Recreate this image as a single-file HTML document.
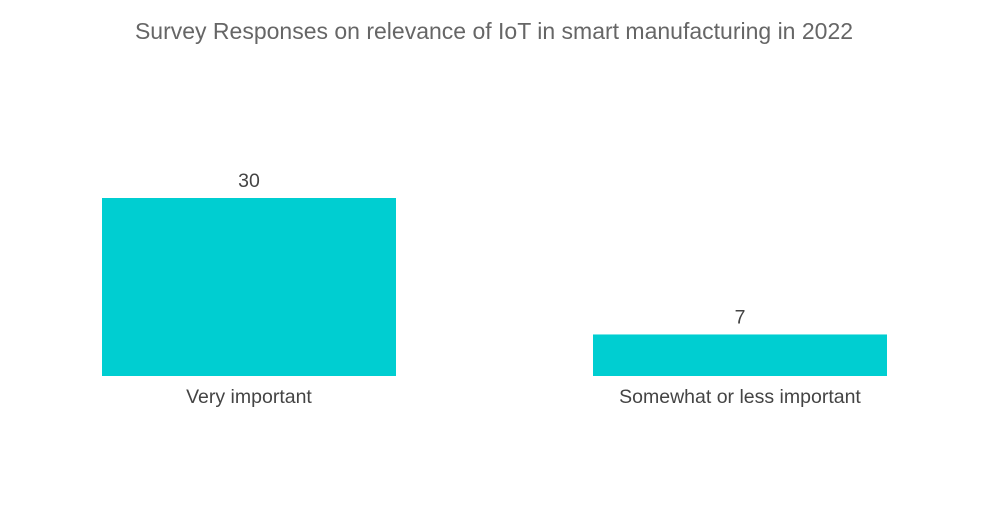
<!DOCTYPE html>
<html><head><meta charset="utf-8"><style>
body{margin:0;background:#fff;width:1000px;height:504px;overflow:hidden;font-family:"Liberation Sans",sans-serif;}
</style></head><body>
<svg id="chart" width="1000" height="504">
<text x="494" y="39" text-anchor="middle" font-size="23" fill="#666">Survey Responses on relevance of IoT in smart manufacturing in 2022</text>
<g id="bars"></g>
</svg>
<script>
const categories=["Very important","Somewhat or less important"];
const values=[30,7];
const valueLabels=["30","7"];
const baseY=376, unit=178/30;
const bandStart=102, bandStep=491, barW=294;
function xPos(i){return bandStart+i*bandStep;}
function yPos(v){return baseY-v*unit;}
const g=document.getElementById('bars');
const ns="http://www.w3.org/2000/svg";
categories.forEach((c,i)=>{
  const r=document.createElementNS(ns,'rect');
  
  
  r.setAttribute('x',xPos(i));r.setAttribute('y',yPos(values[i]));
  r.setAttribute('width',barW);r.setAttribute('height',baseY-yPos(values[i]));
  r.setAttribute('fill','#00CED1');g.appendChild(r);
  const t=document.createElementNS(ns,'text');
  
  
  t.setAttribute('x',xPos(i)+barW/2);t.setAttribute('y',yPos(values[i])-11);
  t.setAttribute('text-anchor','middle');t.setAttribute('font-size','19.5');t.setAttribute('fill','#444');
  t.textContent=valueLabels[i];g.appendChild(t);
  const l=document.createElementNS(ns,'text');
  
  
  l.setAttribute('x',xPos(i)+barW/2);l.setAttribute('y',baseY+27);
  l.setAttribute('text-anchor','middle');l.setAttribute('font-size','19.5');l.setAttribute('fill','#444');
  l.textContent=c;g.appendChild(l);
});
</script>
</body></html>
